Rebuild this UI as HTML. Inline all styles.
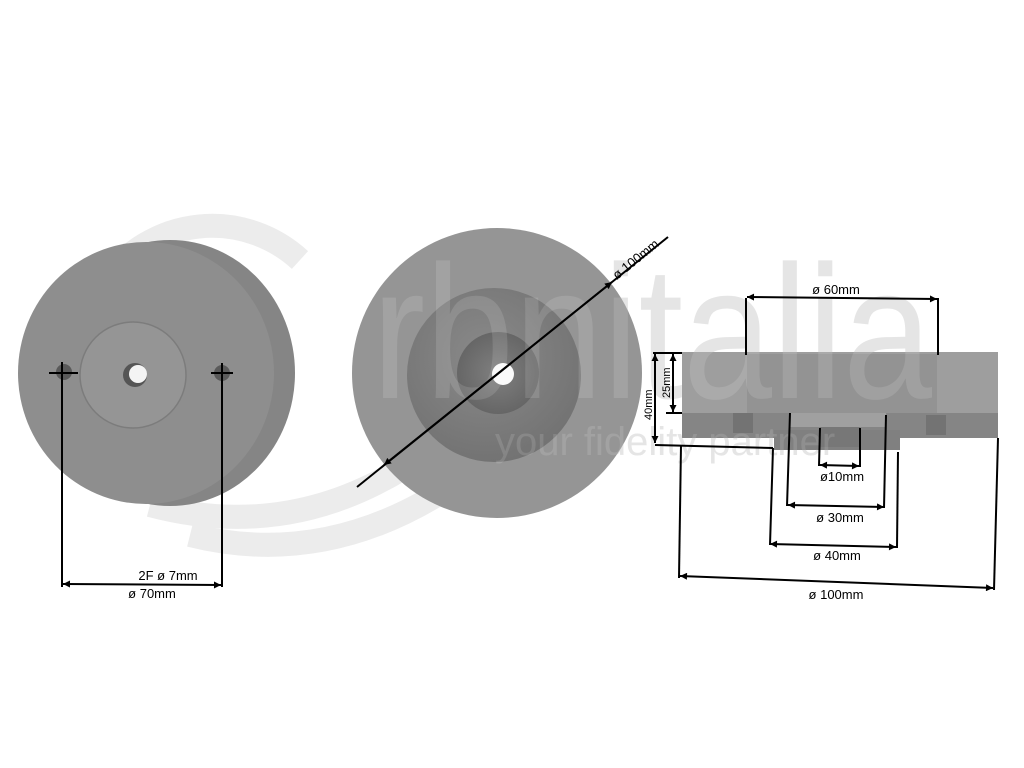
<!DOCTYPE html>
<html><head><meta charset="utf-8"><style>
html,body{margin:0;padding:0;background:#fff;}
svg{display:block;font-family:"Liberation Sans","DejaVu Sans",sans-serif;}
</style></head><body>
<svg width="1024" height="768" viewBox="0 0 1024 768" xmlns="http://www.w3.org/2000/svg">
<defs>
<marker id="a" viewBox="0 0 10 10" refX="10" refY="5" markerWidth="9" markerHeight="7" orient="auto-start-reverse" markerUnits="userSpaceOnUse"><path d="M0,0 L10,5 L0,10 z" fill="#000"/></marker>
<radialGradient id="rec" cx="0.45" cy="0.4" r="0.6"><stop offset="0" stop-color="#8a8a8a"/><stop offset="1" stop-color="#737373"/></radialGradient>
<radialGradient id="hub" cx="0.5" cy="0.5" r="0.5"><stop offset="0" stop-color="#808080"/><stop offset="1" stop-color="#666"/></radialGradient>
</defs>
<rect width="1024" height="768" fill="#fff"/>

<!-- watermark arcs -->
<g fill="none" stroke="#ececec" stroke-width="24">
<path d="M150,470 A130,130 0 1 1 300,260"/>
<path d="M150,505 Q300,545 430,450"/>
<path d="M190,535 Q330,570 460,480"/>
</g>
<text x="372" y="398" font-size="190" fill="#e2e2e2" textLength="560" lengthAdjust="spacingAndGlyphs">rbnitalia</text>
<text x="495" y="455" font-size="40" fill="#e2e2e2">your fidelity partner</text>

<!-- LEFT PULLEY -->
<ellipse cx="170" cy="373" rx="125" ry="133" fill="#858585"/>
<ellipse cx="146" cy="373" rx="128" ry="131" fill="#8e8e8e"/>
<circle cx="133" cy="375" r="53" fill="#959595"/>
<circle cx="133" cy="375" r="53" fill="none" stroke="#7c7c7c" stroke-width="1.5"/>
<circle cx="135" cy="375" r="12" fill="#555"/>
<circle cx="138" cy="374" r="9" fill="#f4f4f4"/>
<circle cx="64" cy="372" r="8" fill="#5a5a5a"/>
<circle cx="222" cy="373" r="8" fill="#5a5a5a"/>
<g stroke="#000" stroke-width="2">
<line x1="49" y1="373" x2="78" y2="373"/><line x1="211" y1="373" x2="233" y2="373"/>
<line x1="62" y1="362" x2="62" y2="587"/><line x1="222" y1="363" x2="222" y2="587"/>
<line x1="63" y1="584" x2="221" y2="585" marker-start="url(#a)" marker-end="url(#a)"/>
</g>

<!-- MIDDLE DISC -->
<circle cx="497" cy="373" r="145" fill="#959595"/>
<circle cx="494" cy="375" r="87" fill="url(#rec)"/>
<circle cx="498" cy="373" r="41" fill="url(#hub)"/>
<circle cx="503" cy="374" r="11" fill="#fafafa"/>

<!-- RIGHT SIDE VIEW -->
<rect x="682" y="352" width="316" height="63" fill="#9e9e9e"/>
<rect x="747" y="354" width="190" height="60" fill="#939393"/>
<rect x="682" y="413" width="316" height="25" fill="#858585"/>
<rect x="733" y="413" width="20" height="20" fill="#737373"/>
<rect x="926" y="415" width="20" height="20" fill="#737373"/>
<rect x="774" y="430" width="126" height="20" fill="#808080"/>
<rect x="790" y="413" width="96" height="14" fill="#a0a0a0"/>
<rect x="820" y="427" width="40" height="20" fill="#777"/>

<!-- faint watermark overlay on objects -->
<g opacity="0.12" fill="#fff">
<text x="372" y="398" font-size="190" textLength="560" lengthAdjust="spacingAndGlyphs">rbnitalia</text>
<text x="495" y="455" font-size="40">your fidelity partner</text>
</g>

<line x1="357" y1="487" x2="668" y2="237" stroke="#000" stroke-width="2"/>
<line x1="384" y1="465" x2="612" y2="282" stroke="#000" stroke-width="2" marker-start="url(#a)" marker-end="url(#a)"/>
<text transform="translate(617,280) rotate(-39)" font-size="13">ø 100mm</text>

<text x="168" y="580" font-size="13" text-anchor="middle">2F ø 7mm</text>
<text x="152" y="598" font-size="13" text-anchor="middle">ø 70mm</text>

<g stroke="#000" stroke-width="2" fill="none">
<line x1="746" y1="298" x2="746" y2="355"/><line x1="938" y1="298" x2="938" y2="355"/>
<line x1="747" y1="297" x2="937" y2="299" marker-start="url(#a)" marker-end="url(#a)"/>
<line x1="653" y1="353" x2="682" y2="353"/>
<line x1="655" y1="354" x2="655" y2="443" marker-start="url(#a)" marker-end="url(#a)"/>
<line x1="673" y1="354" x2="673" y2="412" marker-start="url(#a)" marker-end="url(#a)"/>
<line x1="666" y1="413" x2="682" y2="413"/>
<line x1="655" y1="445" x2="773" y2="448"/>
<line x1="820" y1="428" x2="819" y2="466"/><line x1="860" y1="428" x2="860" y2="467"/>
<line x1="820" y1="465" x2="859" y2="466" marker-start="url(#a)" marker-end="url(#a)"/>
<line x1="790" y1="413" x2="787" y2="506"/><line x1="886" y1="415" x2="884" y2="508"/>
<line x1="788" y1="505" x2="884" y2="507" marker-start="url(#a)" marker-end="url(#a)"/>
<line x1="773" y1="448" x2="770" y2="545"/><line x1="898" y1="452" x2="897" y2="548"/>
<line x1="770" y1="544" x2="896" y2="547" marker-start="url(#a)" marker-end="url(#a)"/>
<line x1="681" y1="445" x2="679" y2="578"/><line x1="998" y1="438" x2="994" y2="590"/>
<line x1="680" y1="576" x2="993" y2="588" marker-start="url(#a)" marker-end="url(#a)"/>
</g>
<text x="836" y="294" font-size="13" text-anchor="middle">ø 60mm</text>
<text transform="translate(652,420) rotate(-90)" font-size="11">40mm</text>
<text transform="translate(670,398) rotate(-90)" font-size="11">25mm</text>
<text x="842" y="481" font-size="13" text-anchor="middle">ø10mm</text>
<text x="840" y="522" font-size="13" text-anchor="middle">ø 30mm</text>
<text x="837" y="560" font-size="13" text-anchor="middle">ø 40mm</text>
<text x="836" y="599" font-size="13" text-anchor="middle">ø 100mm</text>
</svg>
</body></html>
